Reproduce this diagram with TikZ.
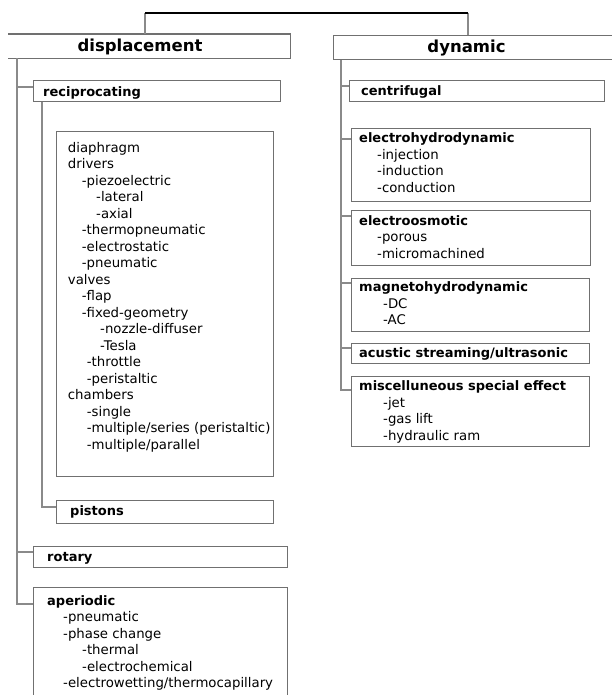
\documentclass[tikz,border=0pt]{standalone}
\usepackage{fontspec}
\setmainfont{DejaVu Sans}
\definecolor{boxgray}{HTML}{707070}
\definecolor{linegray}{HTML}{8A8A8A}
\tikzset{
  boxshape/.style={draw=boxgray, line width=1.1pt, rectangle, inner sep=0pt, anchor=north west},
  openbox/.style={draw=none, rectangle, inner sep=0pt, anchor=north west},
  conn/.style={draw=linegray, line width=1.1pt},
  txt/.style={font=\fontsize{13.3}{16.5}\selectfont, inner sep=0pt, anchor=base west, text=black},
  btxt/.style={font=\fontsize{13}{16.5}\selectfont\bfseries, inner sep=0pt, anchor=base west, text=black},
  htxt/.style={font=\fontsize{16.5}{20}\selectfont\bfseries, inner sep=0pt, anchor=base, text=black},
}
\begin{document}
\begin{tikzpicture}[x=1pt, y=-1pt]
\useasboundingbox (0,0) rectangle (612,695);
\clip (0,0) rectangle (612,695);
\fill[white] (0,0) rectangle (612,695);

% ---------- boxes ----------
\node[openbox, minimum width=282pt, minimum height=24pt] (disp) at (8,34) {};
\draw[boxgray, line width=1.1pt] (disp.north west) -- (disp.north east) -- (disp.south east) -- (disp.south west);
\node[boxshape, minimum width=300pt, minimum height=24pt] (dyn) at (333,35) {};

\node[boxshape, minimum width=247pt, minimum height=21pt] (recip) at (33,80) {};
\node[boxshape, minimum width=217pt, minimum height=345pt] (big) at (56,131) {};
\node[boxshape, minimum width=217pt, minimum height=23pt] (pist) at (56,500) {};
\node[boxshape, minimum width=254pt, minimum height=21pt] (rot) at (33,546) {};
\node[boxshape, minimum width=254pt, minimum height=130pt] (aper) at (33,587) {};

\node[boxshape, minimum width=255pt, minimum height=21pt] (cent) at (349,80) {};
\node[boxshape, minimum width=239pt, minimum height=73pt] (ehd) at (351,128) {};
\node[boxshape, minimum width=239pt, minimum height=55pt] (eo) at (351,210) {};
\node[boxshape, minimum width=238pt, minimum height=53pt] (mhd) at (351,278) {};
\node[boxshape, minimum width=238pt, minimum height=20pt] (acu) at (351,343) {};
\node[boxshape, minimum width=238pt, minimum height=70pt] (misc) at (351,376) {};

% ---------- connectors ----------
\coordinate (topL) at (145,13);
\coordinate (topR) at (468,13);
\draw[conn] (topL |- disp.north) -- (topL);
\draw[conn] (topR) -- (topR |- dyn.north);
\draw[black, line width=1.1pt] (topL) -- (topR);

\coordinate (dtr) at (17,0);
\draw[conn] (dtr |- disp.south) |- ([yshift=-17pt]aper.north west);
\draw[conn] ([yshift=-7pt]recip.north west -| dtr) -- ([yshift=-7pt]recip.north west);
\draw[conn] ([yshift=-6pt]rot.north west -| dtr) -- ([yshift=-6pt]rot.north west);

\coordinate (rtr) at (42,0);
\draw[conn] (rtr |- recip.south) |- ([yshift=-7pt]pist.north west);

\coordinate (ytr) at (341,0);
\draw[conn] (ytr |- dyn.south) |- ([yshift=-14pt]misc.north west);
\draw[conn] ([yshift=-6pt]cent.north west -| ytr) -- ([yshift=-6pt]cent.north west);
\draw[conn] ([yshift=-11pt]ehd.north west -| ytr) -- ([yshift=-11pt]ehd.north west);
\draw[conn] ([yshift=-6pt]eo.north west -| ytr) -- ([yshift=-6pt]eo.north west);
\draw[conn] ([yshift=-5pt]mhd.north west -| ytr) -- ([yshift=-5pt]mhd.north west);
\draw[conn] ([yshift=-5pt]acu.north west -| ytr) -- ([yshift=-5pt]acu.north west);

% ---------- headings ----------
\node[htxt] (tdisp) at (140,51.5) {displacement};
\node[htxt] (tdyn) at (466.5,52.3) {dynamic};

% ---------- left texts ----------
\node[btxt] (trecip) at (43,97) {reciprocating};
\node[txt] (b0) at (67.7,152.3) {diaphragm};
\node[txt] (b1) at (67.7,168.8) {drivers};
\node[txt] (b2) at (81.7,185.3) {-piezoelectric};
\node[txt] (b3) at (96,201.8) {-lateral};
\node[txt] (b4) at (96,218.3) {-axial};
\node[txt] (b5) at (81.7,234.8) {-thermopneumatic};
\node[txt] (b6) at (81.7,251.3) {-electrostatic};
\node[txt] (b7) at (81.7,267.8) {-pneumatic};
\node[txt] (b8) at (67.7,284.3) {valves};
\node[txt] (b9) at (81.7,300.8) {-flap};
\node[txt] (b10) at (81.7,317.3) {-fixed-geometry};
\node[txt] (b11) at (100,333.8) {-nozzle-diffuser};
\node[txt] (b12) at (100,350.3) {-Tesla};
\node[txt] (b13) at (86.7,366.8) {-throttle};
\node[txt] (b14) at (86.7,383.3) {-peristaltic};
\node[txt] (b15) at (67.7,399.8) {chambers};
\node[txt] (b16) at (86.7,416.3) {-single};
\node[txt] (b17) at (86.7,432.8) {-multiple/series (peristaltic)};
\node[txt] (b18) at (86.7,449.3) {-multiple/parallel};
\node[btxt] (tpist) at (70,515.7) {pistons};
\node[btxt] (trot) at (47,561) {rotary};
\node[btxt] (taper) at (47,605) {aperiodic};
\node[txt] (a1) at (63,621.5) {-pneumatic};
\node[txt] (a2) at (63,638) {-phase change};
\node[txt] (a3) at (82,654.5) {-thermal};
\node[txt] (a4) at (82,671) {-electrochemical};
\node[txt] (a5) at (63,687.5) {-electrowetting/thermocapillary};

% ---------- right texts ----------
\node[btxt] (tcent) at (361,96) {centrifugal};
\node[btxt] (tehd) at (359,142.7) {electrohydrodynamic};
\node[txt] (e1) at (377,159.2) {-injection};
\node[txt] (e2) at (377,175.7) {-induction};
\node[txt] (e3) at (377,192.2) {-conduction};
\node[btxt] (teo) at (359,225) {electroosmotic};
\node[txt] (o1) at (377,241.5) {-porous};
\node[txt] (o2) at (377,258) {-micromachined};
\node[btxt] (tmhd) at (359,291.7) {magnetohydrodynamic};
\node[txt] (m1) at (383,308.2) {-DC};
\node[txt] (m2) at (383,324.7) {-AC};
\node[btxt] (tacu) at (359,357.3) {acustic streaming/ultrasonic};
\node[btxt] (tmisc) at (359,390.7) {miscelluneous special effect};
\node[txt] (s1) at (383,407.2) {-jet};
\node[txt] (s2) at (383,423.7) {-gas lift};
\node[txt] (s3) at (383,440.2) {-hydraulic ram};
\end{tikzpicture}
\end{document}
